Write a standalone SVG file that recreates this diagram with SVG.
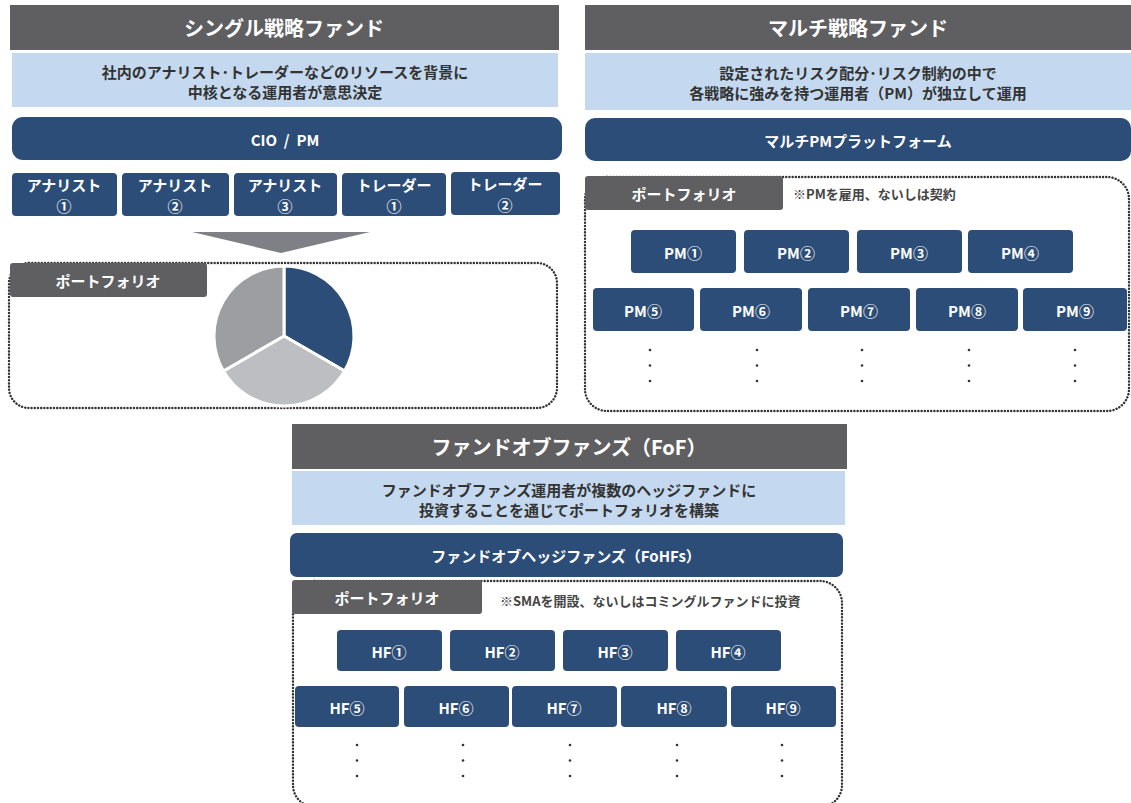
<svg xmlns="http://www.w3.org/2000/svg" width="1131" height="803" viewBox="0 0 1131 803">
<style>
text{font-family:"Noto Sans CJK JP","Noto Sans",sans-serif;font-weight:700;text-anchor:middle;dominant-baseline:central}
.title{fill:#5f5f61}
.ttl{fill:#fff;font-size:20px}
.band{fill:#c4d9ef}
.btxt{fill:#333;font-size:15px}
.navy{fill:#2c4d78}
.wt{fill:#fff;font-size:15px}
.box{fill:#2c4d78}
.bt{fill:#fff;font-size:15px}
.tab{fill:#5f5f61}
.note{fill:#444;font-size:13px;text-anchor:start}
.dot{fill:none;stroke:#333;stroke-width:2.4;stroke-dasharray:0.1 3.1;stroke-linecap:round}
.d{fill:#333}
</style>
<defs>
<g id="dots"><circle cx="0" cy="0" r="1.3" class="d"/><circle cx="0" cy="15.5" r="1.3" class="d"/><circle cx="0" cy="31" r="1.3" class="d"/></g>
</defs>

<g id="single">
<rect class="title" x="10" y="5" width="549" height="45"/>
<text class="ttl" x="284" y="27">シングル戦略ファンド</text>
<rect class="band" x="12" y="53" width="546" height="54"/>
<text class="btxt" x="285" y="71">社内のアナリスト･トレーダーなどのリソースを背景に</text>
<text class="btxt" x="285" y="91">中核となる運用者が意思決定</text>
<rect class="navy" x="12" y="117" width="550" height="43" rx="11"/>
<text class="wt" x="285" y="139" xml:space="preserve" style="white-space:pre">CIO  /  PM</text>
<g id="s-a1"><rect class="box" x="12" y="173" width="105" height="43" rx="4"/><text class="wt" x="64" y="184">アナリスト</text><text class="wt" x="64" y="205">①</text></g>
<g id="s-a2"><rect class="box" x="122" y="173" width="107" height="43" rx="4"/><text class="wt" x="175" y="184">アナリスト</text><text class="wt" x="175" y="205">②</text></g>
<g id="s-a3"><rect class="box" x="234" y="173" width="103" height="43" rx="4"/><text class="wt" x="285" y="184">アナリスト</text><text class="wt" x="285" y="205">③</text></g>
<g id="s-t1"><rect class="box" x="342" y="173" width="104" height="43" rx="4"/><text class="wt" x="394" y="184">トレーダー</text><text class="wt" x="394" y="205">①</text></g>
<g id="s-t2"><rect class="box" x="451" y="172" width="109" height="43" rx="4"/><text class="wt" x="505" y="183">トレーダー</text><text class="wt" x="505" y="204">②</text></g>
<polygon points="192,232 370,232 281,253" fill="#7f8085"/>
<rect class="dot" x="9" y="263" width="548" height="145" rx="20"/>
<rect class="tab" x="10" y="263" width="197" height="34" rx="3"/>
<text class="wt" x="108" y="280">ポートフォリオ</text>
<g id="pie" stroke="#fff" stroke-width="3" stroke-linejoin="round">
<path d="M284,336 L284,266 A70,70 0 0 1 344.6,371 Z" fill="#2c4d78"/>
<path d="M284,336 L344.6,371 A70,70 0 0 1 223.4,371 Z" fill="#bdbec2"/>
<path d="M284,336 L223.4,371 A70,70 0 0 1 284,266 Z" fill="#9d9ea2"/>
</g>
</g>

<g id="multi">
<rect class="title" x="585" y="5" width="546" height="45"/>
<text class="ttl" x="858" y="27">マルチ戦略ファンド</text>
<rect class="band" x="585" y="53" width="546" height="57"/>
<text class="btxt" x="858" y="72">設定されたリスク配分･リスク制約の中で</text>
<text class="btxt" x="858" y="92">各戦略に強みを持つ運用者（PM）が独立して運用</text>
<rect class="navy" x="585" y="118" width="546" height="43" rx="10"/>
<text class="wt" x="858" y="140">マルチPMプラットフォーム</text>
<rect class="dot" x="585" y="177" width="544" height="234" rx="22"/>
<rect class="tab" x="585" y="176" width="198" height="34" rx="3"/>
<text class="wt" x="684" y="193">ポートフォリオ</text>
<text class="note" x="793" y="193">※PMを雇用、ないしは契約</text>
<g id="pm1"><rect class="box" x="631" y="230" width="105" height="43" rx="4"/><text class="bt" x="683" y="252">PM①</text></g>
<g id="pm2"><rect class="box" x="744" y="230" width="105" height="43" rx="4"/><text class="bt" x="796" y="252">PM②</text></g>
<g id="pm3"><rect class="box" x="857" y="230" width="105" height="43" rx="4"/><text class="bt" x="909" y="252">PM③</text></g>
<g id="pm4"><rect class="box" x="968" y="230" width="105" height="43" rx="4"/><text class="bt" x="1020" y="252">PM④</text></g>
<g id="pm5"><rect class="box" x="593" y="288" width="101" height="43" rx="4"/><text class="bt" x="643" y="310">PM⑤</text></g>
<g id="pm6"><rect class="box" x="700" y="288" width="102" height="43" rx="4"/><text class="bt" x="751" y="310">PM⑥</text></g>
<g id="pm7"><rect class="box" x="808" y="288" width="102" height="43" rx="4"/><text class="bt" x="859" y="310">PM⑦</text></g>
<g id="pm8"><rect class="box" x="916" y="288" width="102" height="43" rx="4"/><text class="bt" x="967" y="310">PM⑧</text></g>
<g id="pm9"><rect class="box" x="1023" y="288" width="104" height="43" rx="4"/><text class="bt" x="1075" y="310">PM⑨</text></g>
<use href="#dots" x="650" y="350"/>
<use href="#dots" x="757" y="350"/>
<use href="#dots" x="862" y="350"/>
<use href="#dots" x="969" y="350"/>
<use href="#dots" x="1075" y="350"/>
</g>

<g id="fof">
<rect class="title" x="292" y="424" width="555" height="45"/>
<text class="ttl" x="569" y="446">ファンドオブファンズ（FoF）</text>
<rect class="band" x="292" y="471" width="553" height="54"/>
<text class="btxt" x="569" y="489">ファンドオブファンズ運用者が複数のヘッジファンドに</text>
<text class="btxt" x="569" y="509">投資することを通じてポートフォリオを構築</text>
<rect class="navy" x="290" y="533" width="553" height="44" rx="7"/>
<text class="wt" x="566" y="555">ファンドオブヘッジファンズ（FoHFs）</text>
<rect class="dot" x="293" y="581" width="549" height="226" rx="22"/>
<rect class="tab" x="292" y="580" width="190" height="34" rx="3"/>
<text class="wt" x="387" y="597">ポートフォリオ</text>
<text class="note" x="500" y="600">※SMAを開設、ないしはコミングルファンドに投資</text>
<g id="hf1"><rect class="box" x="337" y="630" width="105" height="41" rx="4"/><text class="bt" x="389" y="651">HF①</text></g>
<g id="hf2"><rect class="box" x="450" y="630" width="105" height="41" rx="4"/><text class="bt" x="502" y="651">HF②</text></g>
<g id="hf3"><rect class="box" x="563" y="630" width="105" height="41" rx="4"/><text class="bt" x="615" y="651">HF③</text></g>
<g id="hf4"><rect class="box" x="676" y="630" width="105" height="41" rx="4"/><text class="bt" x="728" y="651">HF④</text></g>
<g id="hf5"><rect class="box" x="295" y="686" width="104" height="41" rx="4"/><text class="bt" x="347" y="707">HF⑤</text></g>
<g id="hf6"><rect class="box" x="404" y="686" width="105" height="41" rx="4"/><text class="bt" x="456" y="707">HF⑥</text></g>
<g id="hf7"><rect class="box" x="512" y="686" width="105" height="41" rx="4"/><text class="bt" x="564" y="707">HF⑦</text></g>
<g id="hf8"><rect class="box" x="621" y="686" width="106" height="41" rx="4"/><text class="bt" x="674" y="707">HF⑧</text></g>
<g id="hf9"><rect class="box" x="731" y="686" width="105" height="41" rx="4"/><text class="bt" x="783" y="707">HF⑨</text></g>
<use href="#dots" x="357" y="745"/>
<use href="#dots" x="463" y="745"/>
<use href="#dots" x="570" y="745"/>
<use href="#dots" x="677" y="745"/>
<use href="#dots" x="782" y="745"/>
</g>
<g id="connectors"/>
</svg>
